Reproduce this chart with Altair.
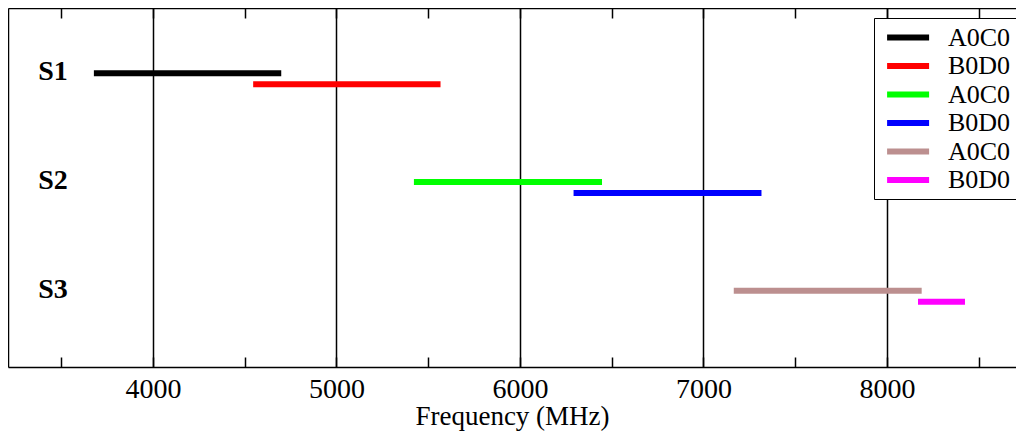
import altair as alt
import pandas as pd

# ---- data ----
keys = ["A0C0-1", "B0D0-1", "A0C0-2", "B0D0-2", "A0C0-3", "B0D0-3"]
starts = [3678, 4546, 5422, 6292, 7165, 8169]
ends = [4699, 5567, 6447, 7316, 8189, 8425]
levels = [1.0, 1.1, 2.0, 2.1, 3.0, 3.1]
colors = ["#000000", "#ff0000", "#00ff00", "#0000ff", "#bc8f8f", "#ff00ff"]

group_labels = ["S1", "S2", "S3"]
group_levels = [1, 2, 3]
group_x = [3455, 3455, 3455]

major_ticks = [4000, 5000, 6000, 7000, 8000]
all_ticks = [3500, 4000, 4500, 5000, 5500, 6000, 6500, 7000, 7500, 8000, 8500]

x_domain = [3210, 8703]
y_domain = [0.4, 3.7]

W, H = 1008, 359
FONT = "Liberation Serif"

seg = pd.DataFrame({"key": keys, "start": starts, "end": ends, "level": levels})
lab = pd.DataFrame({"name": group_labels, "level": group_levels, "x": group_x})

xscale = alt.Scale(domain=x_domain, nice=False, zero=False)
yscale = alt.Scale(domain=y_domain, reverse=True, nice=False, zero=False)


def y_axis():
    return alt.Axis(labels=False, ticks=False, grid=False, title=None,
                    domainColor="#000000", domainWidth=1.5)


main_axis = alt.Axis(
    values=major_ticks, format="d", ticks=False, grid=True, gridColor="#000000",
    gridOpacity=1, gridWidth=1.5, domainColor="#000000", domainWidth=1.5,
    labelFont=FONT, labelFontSize=28, labelColor="#000000", labelPadding=8,
    title="Frequency (MHz)", titleFont=FONT, titleFontSize=27,
    titleFontWeight="normal", titleColor="#000000", titlePadding=0,
)

segments = alt.Chart(seg).mark_rule(strokeWidth=6, strokeCap="butt").encode(
    x=alt.X("start:Q", scale=xscale, axis=main_axis),
    x2="end:Q",
    y=alt.Y("level:Q", scale=yscale, axis=y_axis()),
    color=alt.Color(
        "key:N",
        scale=alt.Scale(domain=keys, range=colors),
        sort=keys,
        legend=alt.Legend(
            title=None, orient="none", legendX=866, legendY=10,
            labelExpr="substring(datum.label, 0, 4)",
            symbolType="M-0.61,0L3.39,0", symbolStrokeWidth=6, symbolSize=441,
            labelFont=FONT, labelFontSize=26, labelColor="#000000",
            labelOffset=41, rowPadding=1.5, padding=6,
            strokeColor="#000000", fillColor="#ffffff", cornerRadius=0,
        ),
    ),
)

texts = alt.Chart(lab).mark_text(
    font=FONT, fontSize=28, fontWeight="bold", color="#000000",
    align="center", baseline="middle", dy=-1,
).encode(
    x=alt.X("x:Q", scale=xscale, axis=None),
    y=alt.Y("level:Q", scale=yscale, axis=y_axis()),
    text="name:N",
)

# inward ticks along the bottom (top-oriented axis moved down)
ticks_bottom = alt.Chart(seg).mark_rule(opacity=0).encode(
    x=alt.X("start:Q", scale=xscale,
            axis=alt.Axis(orient="top", offset=-H, values=all_ticks, labels=False,
                          grid=False, domain=False, tickColor="#000000",
                          tickWidth=1.5, tickSize=10, title=None)),
    y=alt.Y("level:Q", scale=yscale, axis=y_axis()),
)

# inward ticks along the top (bottom-oriented axis moved up), with top border
ticks_top = alt.Chart(seg).mark_rule(opacity=0).encode(
    x=alt.X("end:Q", scale=xscale,
            axis=alt.Axis(orient="bottom", offset=-H, values=all_ticks, labels=False,
                          grid=False, domain=True, domainColor="#000000",
                          domainWidth=1.5, tickColor="#000000",
                          tickWidth=1.5, tickSize=10, title=None)),
    y=alt.Y("level:Q", scale=yscale, axis=y_axis()),
)

chart = alt.layer(segments, texts, ticks_bottom, ticks_top).resolve_scale(
    x="independent"
).properties(
    width=W, height=H,
    autosize=alt.AutoSizeParams(type="none"),
    padding={"left": 0, "top": 0, "right": 0, "bottom": 64},
).configure_view(stroke=None)

chart.save("out.html", embed_options={"renderer": "svg", "actions": False})
